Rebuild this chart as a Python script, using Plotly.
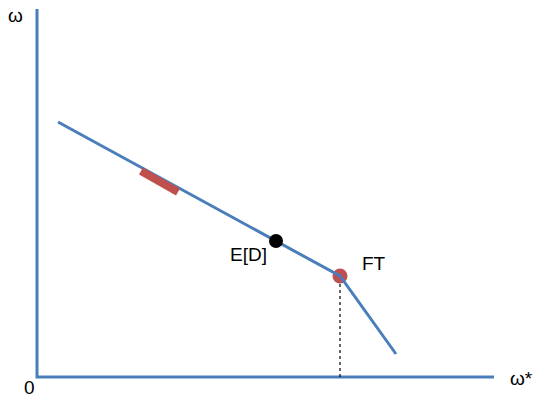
import plotly.graph_objects as go

# Coordinates in chart units: origin at the axes corner
kink_x = [21, 303, 359]
kink_y = [255, 101, 23]

band_x = [104, 141]
band_y = [206, 185]

ed_point = (239, 136)
ft_point = (303, 101)

axis_len_x = 457
axis_len_y = 368

BLUE = "#4a7ebb"
RED = "#c0504d"
FONT = "Liberation Sans, Arial, sans-serif"

fig = go.Figure()

# axes drawn as lines
fig.add_trace(go.Scatter(x=[0, 0, axis_len_x], y=[axis_len_y, 0, 0], mode="lines",
                         line=dict(color=BLUE, width=3), hoverinfo="skip"))

# dotted drop line from FT to the horizontal axis
fig.add_trace(go.Scatter(x=[ft_point[0], ft_point[0]], y=[0, ft_point[1]], mode="lines",
                         line=dict(color="black", width=1.2, dash="dot"), hoverinfo="skip"))

# red FT marker (drawn under the curve)
fig.add_trace(go.Scatter(x=[ft_point[0]], y=[ft_point[1]], mode="markers",
                         marker=dict(color=RED, size=15), hoverinfo="skip"))

# kinked curve
fig.add_trace(go.Scatter(x=kink_x, y=kink_y, mode="lines",
                         line=dict(color=BLUE, width=3), hoverinfo="skip"))

# red band segment on the curve
fig.add_trace(go.Scatter(x=band_x, y=band_y, mode="lines",
                         line=dict(color=RED, width=8), hoverinfo="skip"))

# E[D] point
fig.add_trace(go.Scatter(x=[ed_point[0]], y=[ed_point[1]], mode="markers",
                         marker=dict(color="black", size=14), hoverinfo="skip"))

labels = [
    ("ω", -22, 362),
    ("0", -8, -10),
    ("ω*", 484, -1),
    ("E[D]", 211, 123),
    ("FT", 337, 114),
]
for text, x, y in labels:
    fig.add_annotation(x=x, y=y, text=text, showarrow=False,
                       font=dict(family=FONT, size=19, color="black"),
                       xanchor="center", yanchor="middle")

fig.update_layout(
    width=539, height=398,
    margin=dict(l=0, r=0, t=0, b=0),
    paper_bgcolor="white", plot_bgcolor="white",
    showlegend=False,
    xaxis=dict(range=[-37, 502], visible=False, fixedrange=True),
    yaxis=dict(range=[-21, 377], visible=False, fixedrange=True),
)

fig.write_html("out.html")
